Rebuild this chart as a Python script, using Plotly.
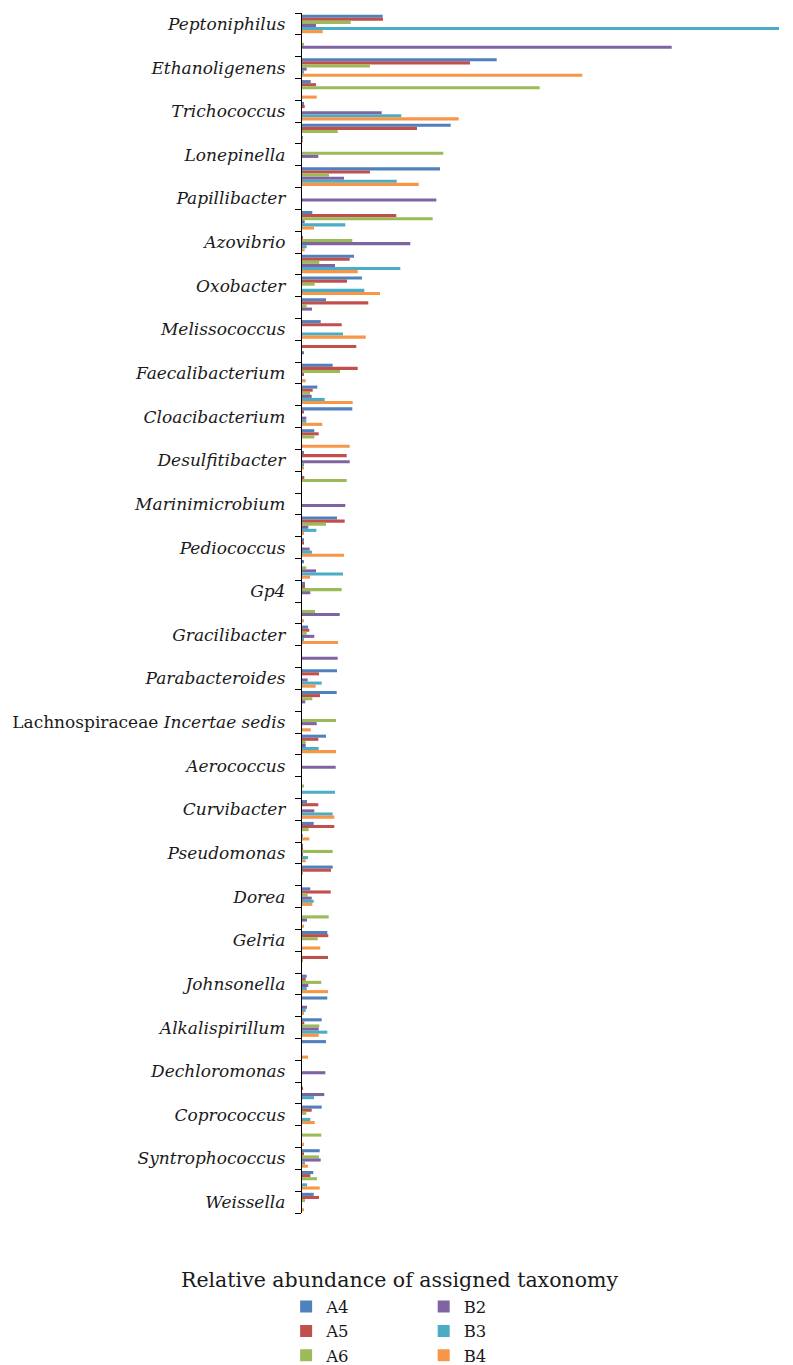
import plotly.graph_objects as go

# 55 genera from top to bottom; only every other one is labelled on the axis
genera = [
    "<i>Peptoniphilus</i>", "", "<i>Ethanoligenens</i>", "", "<i>Trichococcus</i>", "",
    "<i>Lonepinella</i>", "", "<i>Papillibacter</i>", "", "<i>Azovibrio</i>", "",
    "<i>Oxobacter</i>", "", "<i>Melissococcus</i>", "", "<i>Faecalibacterium</i>", "",
    "<i>Cloacibacterium</i>", "", "<i>Desulfitibacter</i>", "", "<i>Marinimicrobium</i>", "",
    "<i>Pediococcus</i>", "", "<i>Gp4</i>", "", "<i>Gracilibacter</i>", "",
    "<i>Parabacteroides</i>", "", "Lachnospiraceae <i>Incertae sedis</i>", "",
    "<i>Aerococcus</i>", "", "<i>Curvibacter</i>", "", "<i>Pseudomonas</i>", "",
    "<i>Dorea</i>", "", "<i>Gelria</i>", "", "<i>Johnsonella</i>", "",
    "<i>Alkalispirillum</i>", "", "<i>Dechloromonas</i>", "", "<i>Coprococcus</i>", "",
    "<i>Syntrophococcus</i>", "", "<i>Weissella</i>",
]

A4 = [8.07, 0, 19.47, 0.87, 0.13, 14.87, 0, 13.8, 0, 1.03, 0, 5.2, 6.0, 2.4, 1.87, 0,
      3.07, 1.53, 5.03, 1.23, 0.15, 0, 0, 3.5, 0.2, 0.15, 0.3, 0, 0.6, 0, 3.5, 3.47,
      0, 2.4, 0, 0, 0.5, 1.17, 0.1, 3.07, 0.83, 0, 2.53, 0, 0.47, 2.53, 1.97, 2.4,
      0, 0, 1.97, 0, 1.77, 1.13, 1.17]
A5 = [8.1, 0, 16.8, 1.4, 0.27, 11.5, 0, 6.8, 0, 9.43, 0.1, 4.77, 4.5, 6.63, 3.97, 5.43,
      5.57, 1.07, 0.13, 1.67, 4.47, 0.23, 0, 4.27, 0.2, 0, 0.3, 0, 0.73, 0, 1.7, 1.8,
      0, 1.63, 0, 0, 1.63, 3.23, 0.1, 2.9, 2.87, 0, 2.63, 2.6, 0.37, 0, 0.23, 0,
      0, 0.1, 0.97, 0, 0.15, 0.83, 1.7]
A6 = [4.87, 0.15, 6.8, 23.77, 0, 3.57, 14.13, 2.7, 0, 13.07, 5.03, 1.73, 1.27, 0.47, 0, 0,
      3.8, 0.8, 0, 1.23, 0, 4.47, 0, 2.4, 0, 0.43, 3.97, 1.3, 0.47, 0, 0, 1.03,
      3.4, 0.37, 0, 0.15, 0, 0.67, 3.07, 0.1, 0.57, 2.67, 1.57, 0.1, 1.93, 0, 1.73, 0,
      0, 0, 0.43, 1.93, 1.7, 1.5, 0.3]
B2 = [1.4, 36.97, 0.47, 0, 7.97, 0, 1.63, 4.2, 13.43, 0.27, 10.83, 3.3, 0, 1.0, 0, 0.15,
      0.15, 0.97, 0.43, 0, 4.77, 0, 4.33, 0.63, 0.77, 1.4, 0.83, 3.77, 1.23, 3.57, 0.57, 0.33,
      1.47, 0.37, 3.37, 0, 1.23, 0, 0.1, 0, 0.97, 0.5, 0, 0, 0.63, 0.5, 1.67, 0,
      2.33, 2.23, 0, 0, 1.87, 0, 0]
B3 = [47.7, 0, 0.15, 0, 9.93, 0.1, 0, 9.47, 0, 4.33, 0.47, 9.83, 6.23, 0, 4.1, 0,
      0, 2.27, 0.43, 0, 0.2, 0, 0, 1.43, 1.0, 4.1, 0, 0, 0.2, 0, 1.97, 0,
      0, 1.67, 0, 3.3, 3.07, 0.1, 0.6, 0, 1.17, 0, 0, 0, 0.47, 0.37, 2.53, 0,
      0, 1.2, 0.83, 0, 0.3, 0.5, 0]
B4 = [2.07, 0, 28.03, 1.47, 15.67, 0.1, 0, 11.67, 0, 1.2, 0.27, 5.57, 7.8, 0, 6.37, 0,
      0.37, 5.07, 2.03, 4.77, 0.2, 0, 0, 0.13, 4.2, 0.8, 0, 0.2, 3.6, 0, 1.37, 0,
      0.87, 3.4, 0, 0, 3.23, 0.73, 0.37, 0, 1.03, 0.13, 1.83, 0, 2.6, 0.2, 1.67, 0.6,
      0, 0, 1.27, 0.15, 0.6, 1.77, 0.15]

series_names = ["A4", "A5", "A6", "B2", "B3", "B4"]
series_values = [A4, A5, A6, B2, B3, B4]
colors = ["#4F81BD", "#C0504D", "#9BBB59", "#8064A2", "#4BACC6", "#F79646"]
legend_ids = ["legend", "legend", "legend", "legend2", "legend2", "legend2"]

positions = list(range(len(genera)))
label_pos = [i for i, g in enumerate(genera) if g]
label_txt = [g for g in genera if g]

FONT = "DejaVu Serif"
TXT = "#1a1a1a"

fig = go.Figure()
for name, vals, col, lg in zip(series_names, series_values, colors, legend_ids):
    fig.add_trace(go.Bar(
        y=positions, x=vals, name=name, orientation="h",
        marker=dict(color=col, line=dict(width=0)),
        legend=lg,
    ))

fig.update_layout(
    width=793, height=1365,
    margin=dict(l=294, r=18, t=5, b=160, autoexpand=False),
    paper_bgcolor="white", plot_bgcolor="white",
    barmode="group", bargap=0.15, bargroupgap=0,
    font=dict(family=FONT, color=TXT, size=17),
    xaxis=dict(range=[0, 48.1], showline=False, showgrid=False, zeroline=False,
               showticklabels=False, ticks=""),
    yaxis=dict(range=[len(genera) - 0.5, -0.5], showline=True, linecolor="black",
               linewidth=1.3, showgrid=False, zeroline=False,
               tickmode="array", tickvals=label_pos, ticktext=label_txt,
               ticks="outside", ticklen=6, tickcolor="rgba(0,0,0,0)",
               ticklabelstandoff=6,
               tickfont=dict(family=FONT, size=17, color=TXT),
               minor=dict(tickmode="array",
                          tickvals=[p - 0.5 for p in positions] + [len(genera) - 0.5],
                          ticks="outside", ticklen=6, tickcolor="black", tickwidth=1.3,
                          showgrid=False)),
    legend=dict(x=-0.033, y=-0.0635, xanchor="left", yanchor="top",
                orientation="v", traceorder="normal",
                font=dict(family=FONT, size=16.5, color=TXT),
                bgcolor="rgba(0,0,0,0)"),
    legend2=dict(x=0.253, y=-0.0635, xanchor="left", yanchor="top",
                 orientation="v", traceorder="normal",
                 font=dict(family=FONT, size=16.5, color=TXT),
                 bgcolor="rgba(0,0,0,0)"),
    annotations=[dict(text="Relative abundance of assigned taxonomy",
                      x=0.203, y=-0.0556, xref="paper", yref="paper",
                      xanchor="center", yanchor="middle", showarrow=False,
                      font=dict(family=FONT, size=20.5, color=TXT))],
    showlegend=True,
)

fig.write_html("out.html")
